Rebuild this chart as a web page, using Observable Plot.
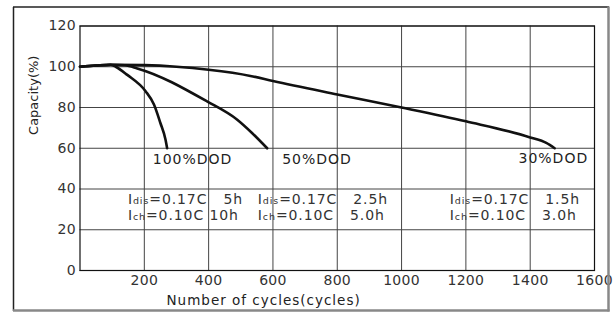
<!DOCTYPE html>
<html><head><meta charset="utf-8">
<script src="https://cdn.jsdelivr.net/npm/d3@7"></script>
<script src="https://cdn.jsdelivr.net/npm/@observablehq/plot@0.6"></script>
<style>body{margin:0;background:#fff;} svg{display:block}</style>
</head><body><div id="chart"></div>
<script>
// ---- data ----
const cycles100   = [0, 50, 95, 111, 147, 204, 230, 250, 266, 271];
const capacity100 = [100, 100.6, 101, 100, 96, 88, 81.5, 72.4, 64.2, 60];
const cycles50    = [0, 50, 95, 140, 178, 395, 489, 535, 582];
const capacity50  = [100, 100.6, 101, 100.7, 99.2, 83, 74, 67.5, 60];
const cycles30    = [0, 50, 100, 200, 300, 400, 530, 600, 800, 1000, 1200, 1400, 1450, 1476];
const capacity30  = [100, 100.6, 101, 100.8, 100, 98.5, 95.5, 93, 86.4, 80, 73.2, 65.3, 62.6, 60];

const seriesNames = ["100%DOD", "50%DOD", "30%DOD"];
const labelCycles = [350, 737, 1472];
const labelCapacity = [54.5, 54.5, 54.8];

const annoLines = ["I|dis|=0.17C   5h", "I|ch|=0.10C 10h",
                   "I|dis|=0.17C   2.5h", "I|ch|=0.10C   5.0h",
                   "I|dis|=0.17C   1.5h", "I|ch|=0.10C   3.0h"];
const annoCycles = [149, 149, 553, 553, 1150, 1150];
const annoCapacity = [34.6, 27.2, 34.6, 27.2, 34.6, 27.2];

const xTicks = [200, 400, 600, 800, 1000, 1200, 1400, 1600];
const yTicks = [0, 20, 40, 60, 80, 100, 120];
const xLabel = "Number of cycles(cycles)";
const yLabel = "Capacity(%)";

// ---- build tables ----
const allSeries = [[cycles100, capacity100], [cycles50, capacity50], [cycles30, capacity30]];
const lineData = allSeries.flatMap(([xs, ys], k) => xs.map((c, i) => ({series: seriesNames[k], x: c, y: ys[i]})));
const labelData = seriesNames.map((n, i) => ({text: n, x: labelCycles[i], y: labelCapacity[i]}));
const annoData = annoLines.map((t, i) => ({text: t, x: annoCycles[i], y: annoCapacity[i]}));

const chart = Plot.plot({
  width: 615, height: 313,
  marginLeft: 79.5, marginRight: 21, marginTop: 25.5, marginBottom: 43,
  style: {fontFamily: "DejaVu Sans", fontSize: "14px", color: "#333", background: "#fff"},
  x: {domain: [0, 1600]},
  y: {domain: [0, 120]},
  marks: [
    Plot.gridX(xTicks, {stroke: "#444", strokeOpacity: 1, strokeWidth: 1}),
    Plot.gridY(yTicks, {stroke: "#444", strokeOpacity: 1, strokeWidth: 1}),
    Plot.frame({stroke: "#111", strokeWidth: 1.2}),
    Plot.axisX(xTicks, {tickSize: 0, tickPadding: 5, fontSize: 14, fill: "#333", label: null, tickFormat: d => String(d)}),
    Plot.axisY(yTicks, {tickSize: 0, tickPadding: 4, fontSize: 14, fill: "#333", label: null, tickFormat: d => String(d)}),
    Plot.line(lineData, {x: "x", y: "y", z: "series", stroke: "#111", strokeWidth: 2.6, curve: "monotone-x"}),
    Plot.text(labelData, {x: "x", y: "y", text: "text", fontSize: 14, fill: "#222", textAnchor: "middle"}),
    Plot.text(annoData, {x: "x", y: "y", text: "text", fontSize: 14, fill: "#333", textAnchor: "start"}),
    Plot.text([{t: xLabel, x: 571, y: -14.8}], {x: "x", y: "y", text: "t", fontSize: 13.5, fill: "#222"}),
    Plot.text([{t: yLabel, x: -145, y: 86}], {x: "x", y: "y", text: "t", fontSize: 13, fill: "#222", rotate: -90})
  ]
});

document.getElementById("chart").appendChild(chart);

// letter spacing for the wide geometric font look
const svg = d3.select(chart);
svg.selectAll("text").each(function() {
  const t = this.textContent;
  if (t.includes("DOD")) this.setAttribute("letter-spacing", "1");
  else if (t === xLabel) this.setAttribute("letter-spacing", "1");
  else if (/^\d+$/.test(t)) this.setAttribute("letter-spacing", "0.3");
});
// rebuild annotation texts with small "dis"/"ch" parts
svg.selectAll("text").filter(function() { return this.textContent.includes("|"); }).each(function() {
  const parts = this.textContent.split("|");
  const el = d3.select(this);
  el.text(null).attr("xml:space", "preserve").style("white-space", "pre").attr("letter-spacing", "0.9");
  el.append("tspan").text(parts[0]);
  el.append("tspan").attr("font-size", 9.5).text(parts[1]);
  el.append("tspan").text(parts[2]);
});
// outer picture frame
svg.append("line").attr("x1", 13.5).attr("x2", 13.5).attr("y1", 7).attr("y2", 311).attr("stroke", "#222").attr("stroke-width", 1.5);
svg.append("line").attr("x1", 13).attr("x2", 609).attr("y1", 7).attr("y2", 7).attr("stroke", "#222").attr("stroke-width", 1.5);
svg.append("line").attr("x1", 608.5).attr("x2", 608.5).attr("y1", 6.5).attr("y2", 311.5).attr("stroke", "#888").attr("stroke-width", 2.5);
svg.append("line").attr("x1", 13).attr("x2", 609.5).attr("y1", 310.5).attr("y2", 310.5).attr("stroke", "#888").attr("stroke-width", 2.5);
</script>
</body></html>
